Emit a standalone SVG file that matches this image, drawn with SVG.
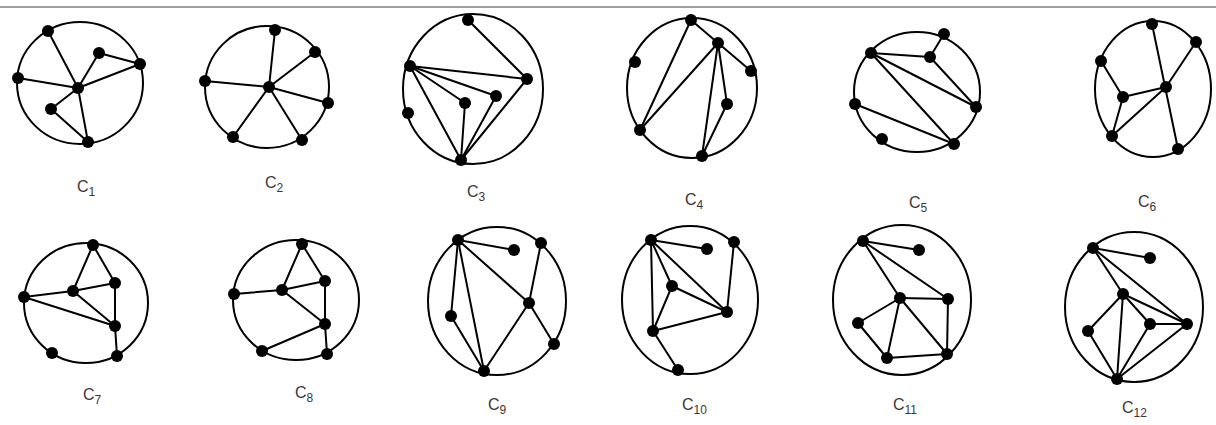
<svg xmlns="http://www.w3.org/2000/svg" width="1216" height="425" viewBox="0 0 1216 425">
<style>
.ring{fill:none;stroke:#000;stroke-width:2}
.e{stroke:#000;stroke-width:2;stroke-linecap:round}
.n{fill:#000}
.lbl{font-family:"Liberation Sans",Arial,sans-serif;font-size:16px;fill:#3c3636}
.sub{font-size:12px}
</style>
<rect width="1216" height="425" fill="#fff"/>
<line x1="0" y1="7" x2="1216" y2="7" stroke="#808080" stroke-width="1.5"/>

<g id="C1">
<ellipse class="ring" cx="80" cy="83" rx="63" ry="61"/>
<g class="e">
<line x1="48" y1="31" x2="78" y2="88"/><line x1="18" y1="78" x2="78" y2="88"/><line x1="99" y1="53" x2="78" y2="88"/><line x1="140" y1="64" x2="78" y2="88"/><line x1="99" y1="53" x2="140" y2="64"/><line x1="78" y1="88" x2="51" y2="109"/><line x1="51" y1="109" x2="88" y2="142"/><line x1="78" y1="88" x2="88" y2="142"/>
</g>
<g class="n"><circle cx="48" cy="31" r="6"/><circle cx="99" cy="53" r="6"/><circle cx="140" cy="64" r="6"/><circle cx="18" cy="78" r="6"/><circle cx="78" cy="88" r="6"/><circle cx="51" cy="109" r="6"/><circle cx="88" cy="142" r="6"/></g>
<text class="lbl" x="77" y="192">C<tspan class="sub" dy="4">1</tspan></text>
</g>

<g id="C2">
<ellipse class="ring" cx="267" cy="87" rx="62" ry="61"/>
<g class="e">
<line x1="269" y1="87" x2="275" y2="30"/><line x1="269" y1="87" x2="315" y2="52"/><line x1="269" y1="87" x2="328" y2="103"/><line x1="269" y1="87" x2="302" y2="140"/><line x1="269" y1="87" x2="233" y2="137"/><line x1="269" y1="87" x2="205" y2="81"/>
</g>
<g class="n"><circle cx="275" cy="30" r="6"/><circle cx="315" cy="52" r="6"/><circle cx="328" cy="103" r="6"/><circle cx="302" cy="140" r="6"/><circle cx="233" cy="137" r="6"/><circle cx="205" cy="81" r="6"/><circle cx="269" cy="87" r="6"/></g>
<text class="lbl" x="265" y="188">C<tspan class="sub" dy="4">2</tspan></text>
</g>

<g id="C3">
<ellipse class="ring" cx="473" cy="89" rx="70" ry="75"/>
<g class="e">
<line x1="468" y1="20" x2="527" y2="79"/><line x1="410" y1="66" x2="527" y2="79"/><line x1="410" y1="66" x2="496" y2="96"/><line x1="410" y1="66" x2="465" y2="103"/><line x1="410" y1="66" x2="461" y2="160"/><line x1="465" y1="103" x2="461" y2="160"/><line x1="496" y1="96" x2="461" y2="160"/><line x1="527" y1="79" x2="461" y2="160"/>
</g>
<g class="n"><circle cx="468" cy="20" r="6"/><circle cx="410" cy="66" r="6"/><circle cx="527" cy="79" r="6"/><circle cx="496" cy="96" r="6"/><circle cx="465" cy="103" r="6"/><circle cx="408" cy="113" r="6"/><circle cx="461" cy="160" r="6"/></g>
<text class="lbl" x="467" y="197">C<tspan class="sub" dy="4">3</tspan></text>
</g>

<g id="C4">
<ellipse class="ring" cx="692" cy="88" rx="65" ry="70"/>
<g class="e">
<line x1="691" y1="20" x2="640" y2="130"/><line x1="691" y1="20" x2="718" y2="43"/><line x1="718" y1="43" x2="751" y2="71"/><line x1="718" y1="43" x2="640" y2="130"/><line x1="718" y1="43" x2="702" y2="156"/><line x1="718" y1="43" x2="727" y2="104"/><line x1="727" y1="104" x2="702" y2="156"/>
</g>
<g class="n"><circle cx="691" cy="20" r="6"/><circle cx="718" cy="43" r="6"/><circle cx="635" cy="62" r="6"/><circle cx="751" cy="71" r="6"/><circle cx="727" cy="104" r="6"/><circle cx="640" cy="130" r="6"/><circle cx="702" cy="156" r="6"/></g>
<text class="lbl" x="685" y="205">C<tspan class="sub" dy="4">4</tspan></text>
</g>

<g id="C5">
<ellipse class="ring" cx="917" cy="92" rx="63" ry="60"/>
<g class="e">
<line x1="944" y1="34" x2="930" y2="57"/><line x1="871" y1="53" x2="930" y2="57"/><line x1="871" y1="53" x2="976" y2="107"/><line x1="871" y1="53" x2="954" y2="144"/><line x1="930" y1="57" x2="976" y2="107"/><line x1="855" y1="104" x2="954" y2="144"/>
</g>
<g class="n"><circle cx="944" cy="34" r="6"/><circle cx="871" cy="53" r="6"/><circle cx="930" cy="57" r="6"/><circle cx="855" cy="104" r="6"/><circle cx="976" cy="107" r="6"/><circle cx="882" cy="139" r="6"/><circle cx="954" cy="144" r="6"/></g>
<text class="lbl" x="909" y="208">C<tspan class="sub" dy="4">5</tspan></text>
</g>

<g id="C6">
<ellipse class="ring" cx="1153" cy="89" rx="58" ry="68"/>
<g class="e">
<line x1="1152" y1="24" x2="1178" y2="149"/><line x1="1196" y1="42" x2="1166" y2="87"/><line x1="1166" y1="87" x2="1123" y2="97"/><line x1="1166" y1="87" x2="1112" y2="136"/><line x1="1101" y1="61" x2="1123" y2="97"/><line x1="1123" y1="97" x2="1112" y2="136"/>
</g>
<g class="n"><circle cx="1152" cy="24" r="6"/><circle cx="1196" cy="42" r="6"/><circle cx="1101" cy="61" r="6"/><circle cx="1166" cy="87" r="6"/><circle cx="1123" cy="97" r="6"/><circle cx="1112" cy="136" r="6"/><circle cx="1178" cy="149" r="6"/></g>
<text class="lbl" x="1138" y="207">C<tspan class="sub" dy="4">6</tspan></text>
</g>

<g id="C7">
<ellipse class="ring" cx="86" cy="303" rx="62" ry="60"/>
<g class="e">
<line x1="93" y1="245" x2="73" y2="291"/><line x1="93" y1="245" x2="115" y2="283"/><line x1="73" y1="291" x2="115" y2="283"/><line x1="24" y1="297" x2="73" y2="291"/><line x1="24" y1="297" x2="115" y2="326"/><line x1="73" y1="291" x2="115" y2="326"/><line x1="115" y1="283" x2="115" y2="326"/><line x1="115" y1="326" x2="117" y2="356"/>
</g>
<g class="n"><circle cx="93" cy="245" r="6"/><circle cx="115" cy="283" r="6"/><circle cx="24" cy="297" r="6"/><circle cx="73" cy="291" r="6"/><circle cx="115" cy="326" r="6"/><circle cx="52" cy="353" r="6"/><circle cx="117" cy="356" r="6"/></g>
<text class="lbl" x="83" y="400">C<tspan class="sub" dy="4">7</tspan></text>
</g>

<g id="C8">
<ellipse class="ring" cx="296" cy="300" rx="63" ry="60"/>
<g class="e">
<line x1="302" y1="244" x2="282" y2="290"/><line x1="302" y1="244" x2="325" y2="281"/><line x1="234" y1="294" x2="282" y2="290"/><line x1="282" y1="290" x2="325" y2="281"/><line x1="282" y1="290" x2="325" y2="324"/><line x1="325" y1="281" x2="325" y2="324"/><line x1="325" y1="324" x2="327" y2="354"/><line x1="325" y1="324" x2="262" y2="351"/>
</g>
<g class="n"><circle cx="302" cy="244" r="6"/><circle cx="325" cy="281" r="6"/><circle cx="234" cy="294" r="6"/><circle cx="282" cy="290" r="6"/><circle cx="325" cy="324" r="6"/><circle cx="262" cy="351" r="6"/><circle cx="327" cy="354" r="6"/></g>
<text class="lbl" x="295" y="398">C<tspan class="sub" dy="4">8</tspan></text>
</g>

<g id="C9">
<ellipse class="ring" cx="497" cy="301" rx="69" ry="74"/>
<g class="e">
<line x1="458" y1="240" x2="514" y2="250"/><line x1="458" y1="240" x2="529" y2="303"/><line x1="458" y1="240" x2="451" y2="316"/><line x1="458" y1="240" x2="484" y2="371"/><line x1="451" y1="316" x2="484" y2="371"/><line x1="541" y1="243" x2="529" y2="303"/><line x1="529" y1="303" x2="484" y2="371"/><line x1="529" y1="303" x2="554" y2="344"/>
</g>
<g class="n"><circle cx="458" cy="240" r="6"/><circle cx="514" cy="250" r="6"/><circle cx="541" cy="243" r="6"/><circle cx="529" cy="303" r="6"/><circle cx="451" cy="316" r="6"/><circle cx="554" cy="344" r="6"/><circle cx="484" cy="371" r="6"/></g>
<text class="lbl" x="488" y="410">C<tspan class="sub" dy="4">9</tspan></text>
</g>

<g id="C10">
<ellipse class="ring" cx="690" cy="300" rx="68" ry="74"/>
<g class="e">
<line x1="651" y1="240" x2="707" y2="249"/><line x1="651" y1="240" x2="672" y2="286"/><line x1="651" y1="240" x2="727" y2="312"/><line x1="651" y1="240" x2="653" y2="331"/><line x1="672" y1="286" x2="727" y2="312"/><line x1="672" y1="286" x2="653" y2="331"/><line x1="653" y1="331" x2="727" y2="312"/><line x1="734" y1="242" x2="727" y2="312"/><line x1="653" y1="331" x2="678" y2="370"/>
</g>
<g class="n"><circle cx="651" cy="240" r="6"/><circle cx="707" cy="249" r="6"/><circle cx="734" cy="242" r="6"/><circle cx="672" cy="286" r="6"/><circle cx="727" cy="312" r="6"/><circle cx="653" cy="331" r="6"/><circle cx="678" cy="370" r="6"/></g>
<text class="lbl" x="682" y="410">C<tspan class="sub" dy="4">10</tspan></text>
</g>

<g id="C11">
<ellipse class="ring" cx="902" cy="300" rx="69" ry="75"/>
<g class="e">
<line x1="863" y1="241" x2="919" y2="250"/><line x1="863" y1="241" x2="900" y2="298"/><line x1="863" y1="241" x2="948" y2="299"/><line x1="900" y1="298" x2="948" y2="299"/><line x1="900" y1="298" x2="858" y2="323"/><line x1="900" y1="298" x2="887" y2="358"/><line x1="900" y1="298" x2="947" y2="354"/><line x1="858" y1="323" x2="887" y2="358"/><line x1="887" y1="358" x2="947" y2="354"/><line x1="948" y1="299" x2="947" y2="354"/>
</g>
<g class="n"><circle cx="863" cy="241" r="6"/><circle cx="919" cy="250" r="6"/><circle cx="900" cy="298" r="6"/><circle cx="948" cy="299" r="6"/><circle cx="858" cy="323" r="6"/><circle cx="887" cy="358" r="6"/><circle cx="947" cy="354" r="6"/></g>
<text class="lbl" x="893" y="410">C<tspan class="sub" dy="4">11</tspan></text>
</g>

<g id="C12">
<ellipse class="ring" cx="1134" cy="307" rx="69" ry="75"/>
<g class="e">
<line x1="1093" y1="248" x2="1150" y2="258"/><line x1="1093" y1="248" x2="1123" y2="294"/><line x1="1093" y1="248" x2="1187" y2="324"/><line x1="1123" y1="294" x2="1088" y2="331"/><line x1="1123" y1="294" x2="1117" y2="379"/><line x1="1123" y1="294" x2="1150" y2="324"/><line x1="1123" y1="294" x2="1187" y2="324"/><line x1="1150" y1="324" x2="1187" y2="324"/><line x1="1150" y1="324" x2="1117" y2="379"/><line x1="1187" y1="324" x2="1117" y2="379"/><line x1="1088" y1="331" x2="1117" y2="379"/>
</g>
<g class="n"><circle cx="1093" cy="248" r="6"/><circle cx="1150" cy="258" r="6"/><circle cx="1123" cy="294" r="6"/><circle cx="1150" cy="324" r="6"/><circle cx="1187" cy="324" r="6"/><circle cx="1088" cy="331" r="6"/><circle cx="1117" cy="379" r="6"/></g>
<text class="lbl" x="1122" y="413">C<tspan class="sub" dy="4">12</tspan></text>
</g>
</svg>
